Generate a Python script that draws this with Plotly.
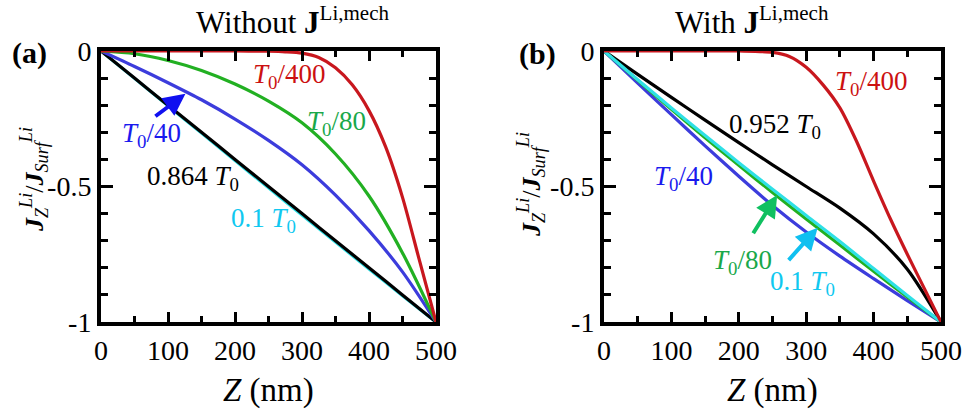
import plotly.graph_objects as go

W, H = 971, 412

# ---------------- data ----------------
z = [0, 50, 100, 150, 200, 250, 300, 350, 400, 450, 500]
z_red = [0, 100, 200, 250, 275, 300, 325, 350, 375, 400, 425, 450, 475, 500]

# panel (a): without J^{Li,mech}
a_black = [0, -0.1, -0.2, -0.3, -0.4, -0.5, -0.6, -0.7, -0.8, -0.9, -1.0]
a_cyan = [0, -0.101, -0.202, -0.303, -0.404, -0.505, -0.605, -0.705, -0.804, -0.903, -1.0]
a_blue = [0, -0.057, -0.117, -0.18, -0.251, -0.33, -0.42, -0.532, -0.663, -0.815, -1.0]
a_green = [0, -0.01, -0.035, -0.072, -0.122, -0.185, -0.265, -0.38, -0.535, -0.745, -1.0]
a_red = [0, 0, 0, -0.001, -0.003, -0.008, -0.024, -0.062, -0.125, -0.22, -0.355, -0.54, -0.77, -1.0]

# panel (b): with J^{Li,mech}
b_black = [0, -0.086, -0.171, -0.255, -0.338, -0.42, -0.50, -0.58, -0.675, -0.805, -1.0]
b_cyan = [0, -0.106, -0.21, -0.312, -0.412, -0.51, -0.607, -0.703, -0.803, -0.902, -1.0]
b_green = [0, -0.108, -0.215, -0.32, -0.422, -0.522, -0.62, -0.716, -0.813, -0.908, -1.0]
b_blue = [0, -0.118, -0.235, -0.35, -0.462, -0.57, -0.668, -0.757, -0.84, -0.921, -1.0]
b_red = [0, 0, 0, -0.005, -0.02, -0.06, -0.125, -0.21, -0.335, -0.48, -0.62, -0.75, -0.875, -1.0]

x_tickvals = [0, 100, 200, 300, 400, 500]
x_ticktext = ["0", "100", "200", "300", "400", "500"]
x_minor = [50, 150, 250, 350, 450]
y_tickvals = [0, -0.5, -1]
y_ticktext = ["0", "-0.5", "-1"]
y_minor = [-0.1, -0.2, -0.3, -0.4, -0.6, -0.7, -0.8, -0.9]

RED = "#c8171e"
GREEN = "#22b022"
BLUE = "#3c3cdc"
CYAN = "#2ee0e6"
BLACK = "#000000"

FONT = "Times New Roman, Liberation Serif, Times, serif"

fig = go.Figure()


def add(xs, ys, color, xa, ya):
    fig.add_trace(go.Scatter(x=xs, y=ys, mode="lines",
                             line=dict(color=color, width=3.2, shape="spline", smoothing=0.8),
                             xaxis=xa, yaxis=ya, showlegend=False, hoverinfo="skip"))


add(z, a_cyan, CYAN, "x", "y")
add(z, a_black, BLACK, "x", "y")
add(z, a_blue, BLUE, "x", "y")
add(z, a_green, GREEN, "x", "y")
add(z_red, a_red, RED, "x", "y")

add(z, b_black, BLACK, "x2", "y2")
add(z, b_blue, BLUE, "x2", "y2")
add(z, b_green, GREEN, "x2", "y2")
add(z, b_cyan, CYAN, "x2", "y2")
add(z_red, b_red, RED, "x2", "y2")


def xdom(l, r):
    return [l / W, r / W]


def ydom(t, b):
    return [1 - b / H, 1 - t / H]


def xaxis(domain, anchor):
    return dict(domain=domain, anchor=anchor, range=[0, 500],
                tickmode="array", tickvals=x_tickvals, ticktext=x_ticktext,
                ticks="inside", ticklen=10, tickwidth=2.5, tickcolor="black",
                minor=dict(tickmode="array", tickvals=x_minor, ticks="inside",
                           ticklen=6, tickwidth=2.5, tickcolor="black"),
                showline=True, linewidth=4, linecolor="black", mirror="allticks",
                showgrid=False, zeroline=False, fixedrange=True, automargin=False,
                tickfont=dict(family=FONT, size=28, color="black"))


def yaxis(domain, anchor):
    return dict(domain=domain, anchor=anchor, range=[-1, 0],
                tickmode="array", tickvals=y_tickvals, ticktext=y_ticktext,
                ticks="inside", ticklen=12, tickwidth=2.5, tickcolor="black",
                minor=dict(tickmode="array", tickvals=y_minor, ticks="inside",
                           ticklen=7, tickwidth=2.5, tickcolor="black"),
                showline=True, linewidth=4, linecolor="black", mirror="allticks",
                showgrid=False, zeroline=False, fixedrange=True, automargin=False,
                tickfont=dict(family=FONT, size=28, color="black"))


fig.update_layout(
    width=W, height=H, autosize=False,
    margin=dict(l=0, r=0, t=0, b=0, pad=0, autoexpand=False),
    paper_bgcolor="white", plot_bgcolor="white",
    xaxis=xaxis(xdom(101, 436), "y"),
    yaxis=yaxis(ydom(51, 322), "x"),
    xaxis2=xaxis(xdom(604, 941), "y2"),
    yaxis2=yaxis(ydom(51, 322), "x2"),
    font=dict(family=FONT, color="black"),
)

ann = []


def text(x, y, s, color, size=27, xref="x", yref="y", **kw):
    d = dict(x=x, y=y, xref=xref, yref=yref, text=s, showarrow=False,
             font=dict(family=FONT, size=size, color=color),
             xanchor="center", yanchor="middle")
    d.update(kw)
    ann.append(d)


def arrow(xt, yt, xs, ys, color, xref, yref):
    ann.append(dict(x=xt, y=yt, ax=xs, ay=ys, xref=xref, yref=yref,
                    axref=xref, ayref=yref, text="", showarrow=True,
                    arrowhead=2, arrowsize=1.1, arrowwidth=4, arrowcolor=color))


T0 = "<i>T</i><sub>0</sub>"

# panel (a) labels
text(282, -0.092, T0 + "/400", "#cc1111")
text(352, -0.264, T0 + "/80", "#1aa84a")
text(76, -0.311, T0 + "/40", "#1a1aee")
text(138, -0.469, "0.864 " + T0, "black")
text(242, -0.623, "0.1 " + T0, "#10c8f0")
arrow(126, -0.158, 79, -0.245, "#1010f0", "x", "y")

# panel (b) labels
text(397, -0.117, T0 + "/400", "#cc1111", xref="x2", yref="y2")
text(254, -0.275, "0.952 " + T0, "black", xref="x2", yref="y2")
text(118, -0.469, T0 + "/40", "#1a1aee", xref="x2", yref="y2")
text(205, -0.777, T0 + "/80", "#1aa84a", xref="x2", yref="y2")
text(295, -0.857, "0.1 " + T0, "#10c8f0", xref="x2", yref="y2")
arrow(257, -0.531, 220, -0.678, "#10c060", "x2", "y2")
arrow(317, -0.652, 272, -0.777, "#10c0f0", "x2", "y2")

# titles / panel letters / axis titles
SUP = '<sup><span style="font-size:21px">Li,mech</span></sup>'
text(292 / W, 1 - 21 / H, "Without <b>J</b>" + SUP, "black", size=31, xref="paper", yref="paper")
text(752 / W, 1 - 21 / H, "With <b>J</b>" + SUP, "black", size=31, xref="paper", yref="paper")
text(29 / W, 1 - 53 / H, "<b>(a)</b>", "black", size=30, xref="paper", yref="paper")
text(537 / W, 1 - 54 / H, "<b>(b)</b>", "black", size=30, xref="paper", yref="paper")
text(268 / W, 1 - 390 / H, "<i>Z</i> (nm)", "black", size=33, xref="paper", yref="paper")
text(772 / W, 1 - 390 / H, "<i>Z</i> (nm)", "black", size=33, xref="paper", yref="paper")
ytitle = ("<b><i>J</i></b><sub><i>Z</i></sub><sup><i>Li</i></sup>/"
          "<b><i>J</i></b><sub><i>Surf</i></sub><sup><i>Li</i></sup>")
text(34 / W, 1 - 180 / H, ytitle, "black", size=26, xref="paper", yref="paper", textangle=-90)
text(531 / W, 1 - 185 / H, ytitle, "black", size=26, xref="paper", yref="paper", textangle=-90)

fig.update_layout(annotations=ann)

fig.write_html("out.html")
